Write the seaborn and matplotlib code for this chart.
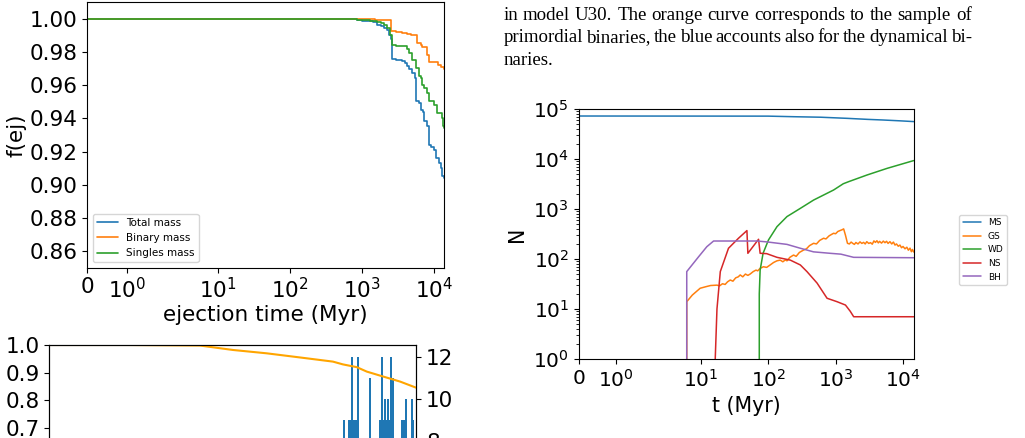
import matplotlib
matplotlib.use("Agg")
import matplotlib.pyplot as plt
from matplotlib.ticker import MultipleLocator
import seaborn as sns

sns.set_style("ticks", {"axes.edgecolor": "black", "text.color": "black",
                        "axes.labelcolor": "black", "xtick.color": "black",
                        "ytick.color": "black"})
plt.rcParams["font.family"] = ["DejaVu Sans"]

W, H = 1025, 438

# --- top-left: fraction of mass kept vs ejection time ---
t_total = [0, 560, 700, 850, 1000, 1200, 1400, 1633, 1820, 2018, 2200, 2370, 2500, 2650,
           3000, 3640, 3920, 4180, 4500, 4870, 5440, 5700, 6200, 6530, 7000, 7260, 8090,
           8510, 9200, 10000, 10540, 11720, 12390, 13070, 13600]
f_total = [1.0, 0.9999, 0.9997, 0.9994, 0.999, 0.9986, 0.998, 0.9966, 0.9958, 0.9944, 0.993,
           0.9904, 0.988, 0.9757, 0.9752, 0.9745, 0.9735, 0.9715, 0.9695, 0.9673, 0.9643,
           0.9505, 0.949, 0.9452, 0.944, 0.9382, 0.9352, 0.9242, 0.923, 0.9212, 0.9162,
           0.9132, 0.91, 0.905, 0.904]
t_binary = [0, 560, 800, 1000, 1500, 2000, 2500, 2560, 3000, 3640, 4200, 4740, 5740, 6500,
            6900, 7910, 8510, 10540, 11500, 12500, 13600]
f_binary = [1.0, 1.0, 0.9999, 0.9998, 0.9995, 0.9992, 0.9988, 0.9924, 0.9922, 0.9915, 0.991,
            0.9905, 0.9854, 0.9845, 0.9832, 0.9783, 0.9743, 0.9738, 0.9725, 0.9712, 0.970]
t_single = [0, 560, 700, 850, 1000, 1300, 1600, 1817, 2000, 2250, 2450, 2640, 3000, 3640,
            4180, 4500, 4870, 5570, 6180, 6530, 6900, 7260, 8090, 8510, 10000, 11100,
            12700, 13400, 13600]
f_single = [1.0, 0.9999, 0.9998, 0.9996, 0.9993, 0.9988, 0.998, 0.9974, 0.9962, 0.9944,
            0.9904, 0.9844, 0.9838, 0.9834, 0.982, 0.9794, 0.9753, 0.9703, 0.9653, 0.9643,
            0.9603, 0.9583, 0.9553, 0.9503, 0.9483, 0.9433, 0.9403, 0.9352, 0.9345]

# --- bottom-left (cut off): remaining fraction and ejection counts ---
t_frac = [0, 3000, 5750, 7010, 8290, 9565, 10820, 11200, 11730, 12110, 12740, 13380, 13990]
frac = [1.0, 1.0, 0.998, 0.982, 0.97, 0.955, 0.94, 0.93, 0.92, 0.904, 0.886, 0.868, 0.846]
t_counts = [11240, 11445, 11500, 11535, 11600, 11660, 11725, 11765, 12235, 12615, 12680,
            12740, 12805, 12870, 12930, 13000, 13035, 13085, 13125, 13440, 13530, 13610,
            13825, 13885]
counts = [9, 9, 9, 12, 9, 9, 9, 12, 11, 9, 12, 9, 10, 9, 10, 9, 12, 11, 11, 9, 9, 10, 10, 9]

# --- right: number of objects per type vs time ---
t_ms = [0, 100, 240, 600, 1500, 3000, 5000, 9000, 14400]
n_ms = [72400, 72000, 70100, 68500, 65000, 62000, 60300, 58000, 56000]
t_gs = [6.1, 6.2, 7.5, 9.8, 12, 14, 17.4, 19, 21, 23, 25, 27.4, 30, 33, 36, 38.5, 42, 46,
        50, 54, 60, 66, 70, 76, 85, 95, 107, 120, 135, 151, 165, 180, 190, 210, 238, 260,
        290, 335, 370, 410, 472, 520, 580, 663, 720, 800, 870, 935, 1000, 1080, 1160, 1250,
        1316, 1400, 1500, 1600, 1700, 1800, 1900, 2000, 2150, 2300, 2450, 2600, 2750, 2900,
        3100, 3300, 3500, 3700, 3900, 4100, 4300, 4500, 4800, 5100, 5400, 5700, 6000, 6400,
        6800, 7200, 7600, 8000, 8500, 9000, 9500, 10000, 10700, 11400, 12000, 12700, 13300,
        13800, 14400]
n_gs = [0, 14, 19, 26, 28, 29.5, 30, 29, 32, 31, 35, 38, 36, 42, 44, 48, 44, 50,
        47, 50, 56, 60, 58, 65, 70, 68, 76, 85, 92, 95, 88, 96, 92, 108, 120, 113,
        135, 151, 160, 185, 206, 200, 235, 260, 252, 290, 310, 327, 320, 355, 370, 385,
        400, 300, 206, 200, 218, 205, 196, 214, 200, 220, 205, 215, 200, 222,
        205, 212, 198, 230, 215, 232, 210, 225, 208, 228, 212, 226, 205, 222,
        200, 218, 190, 200, 180, 190, 168, 178, 160, 172, 150, 165, 140,
        155, 138]
t_wd = [72, 73.8, 76, 84, 101, 135, 190, 300, 472, 935, 1300, 1560, 2930, 5810, 14400]
n_wd = [0, 20, 60, 130, 240, 443, 705, 1030, 1510, 2400, 3200, 3520, 4790, 6500, 9300]
t_ns = [16.3, 16.4, 17.4, 19.5, 25.8, 36.3, 48.4, 50, 72, 76, 95, 135, 213, 300, 376, 531,
        747, 1050, 1400, 1650, 1855, 14400]
n_ns = [0, 1, 10, 56, 164, 260, 370, 130, 248, 130, 128, 108, 95, 76, 56, 33,
        16.4, 14, 12, 9, 7, 7]
t_bh = [6.1, 6.2, 9.3, 12.3, 15.5, 68, 95, 190, 300, 470, 830, 1200, 1850, 14400]
n_bh = [0, 56, 111, 176, 229, 229, 220, 196, 164, 139, 130, 125, 108, 106]

caption = ["in model U30. The orange curve corresponds to the sample of",
           "primordial binaries, the blue accounts also for the dynamical bi-",
           "naries."]

colors = ["#1f77b4", "#ff7f0e", "#2ca02c", "#d62728", "#9467bd"]


def box(left, top, w, h):
    return [left / W, 1 - (top + h) / H, w / W, h / H]


fig = plt.figure(figsize=(W / 100, H / 100), dpi=100)

# top-left panel
ax1 = fig.add_axes(box(87.3, 2.3, 356.4, 265.4))
for t, f, lab, c in [(t_total, f_total, "Total mass", colors[0]),
                     (t_binary, f_binary, "Binary mass", colors[1]),
                     (t_single, f_single, "Singles mass", colors[2])]:
    sns.lineplot(x=t, y=f, ax=ax1, color=c, lw=1.2, label=lab, drawstyle="steps-post",
                 estimator=None, sort=False)
ax1.set_xscale("symlog")
ax1.set_xlim(0, 13600)
ax1.set_ylim(0.85, 1.01)
ax1.yaxis.set_major_locator(MultipleLocator(0.02))
ax1.set_xlabel("ejection time (Myr)", fontsize=15.5, labelpad=2)
ax1.set_ylabel("f(ej)", fontsize=15.5, labelpad=2)
ax1.tick_params(labelsize=15.5)
ax1.legend(loc="lower left", fontsize=7.5)

# bottom-left panel, mostly off the page
ax2 = fig.add_axes(box(49.3, 345, 367, 262))
ax2b = ax2.twinx()
ax2b.bar(t_counts, counts, width=75, color=colors[0], linewidth=0)
sns.lineplot(x=t_frac, y=frac, ax=ax2, color="orange", lw=1.5, estimator=None, sort=False)
ax2.set_zorder(ax2b.get_zorder() + 1)
ax2.patch.set_visible(False)
ax2.set_xlim(0, 14000)
ax2.set_ylim(0.054, 1.0)
ax2b.set_ylim(0, 12.6)
ax2.yaxis.set_major_locator(MultipleLocator(0.1))
ax2b.yaxis.set_major_locator(MultipleLocator(2))
ax2.tick_params(labelsize=15.5)
ax2b.tick_params(labelsize=15.5)

# right panel
ax3 = fig.add_axes(box(578.7, 109, 335, 250))
for t, n, lab, c in [(t_ms, n_ms, "MS", colors[0]), (t_gs, n_gs, "GS", colors[1]),
                     (t_wd, n_wd, "WD", colors[2]), (t_ns, n_ns, "NS", colors[3]),
                     (t_bh, n_bh, "BH", colors[4])]:
    sns.lineplot(x=t, y=n, ax=ax3, color=c, lw=1.1, label=lab, estimator=None, sort=False)
ax3.set_xscale("symlog")
ax3.set_yscale("log")
ax3.set_xlim(0, 14400)
ax3.set_ylim(1, 1e5)
ax3.set_xlabel("t (Myr)", fontsize=14.8)
ax3.set_ylabel("N", fontsize=14.8)
ax3.tick_params(labelsize=14.5)
ax3.legend(loc="center left", bbox_to_anchor=(959 / W, 1 - 250 / H),
           bbox_transform=fig.transFigure, fontsize=6.5, borderaxespad=0)

# caption text, justified like the page
renderer = fig.canvas.get_renderer()
x0, x1 = 503.3, 971.7
for i, (line, ybase) in enumerate(zip(caption, [19.5, 42.5, 65])):
    if i == len(caption) - 1:
        fig.text(x0 / W, 1 - ybase / H, line, family="Liberation Serif",
                 fontsize=13.6, va="baseline")
        continue
    words = line.split()
    texts = [fig.text(x0 / W, 1 - ybase / H, w, family="Liberation Serif",
                      fontsize=13.6, va="baseline") for w in words]
    widths = [t.get_window_extent(renderer).width for t in texts]
    gap = (x1 - x0 - sum(widths)) / (len(words) - 1)
    x = x0
    for t, w in zip(texts, widths):
        t.set_x(x / W)
        x += w + gap

fig.savefig("out.png", dpi=100)
